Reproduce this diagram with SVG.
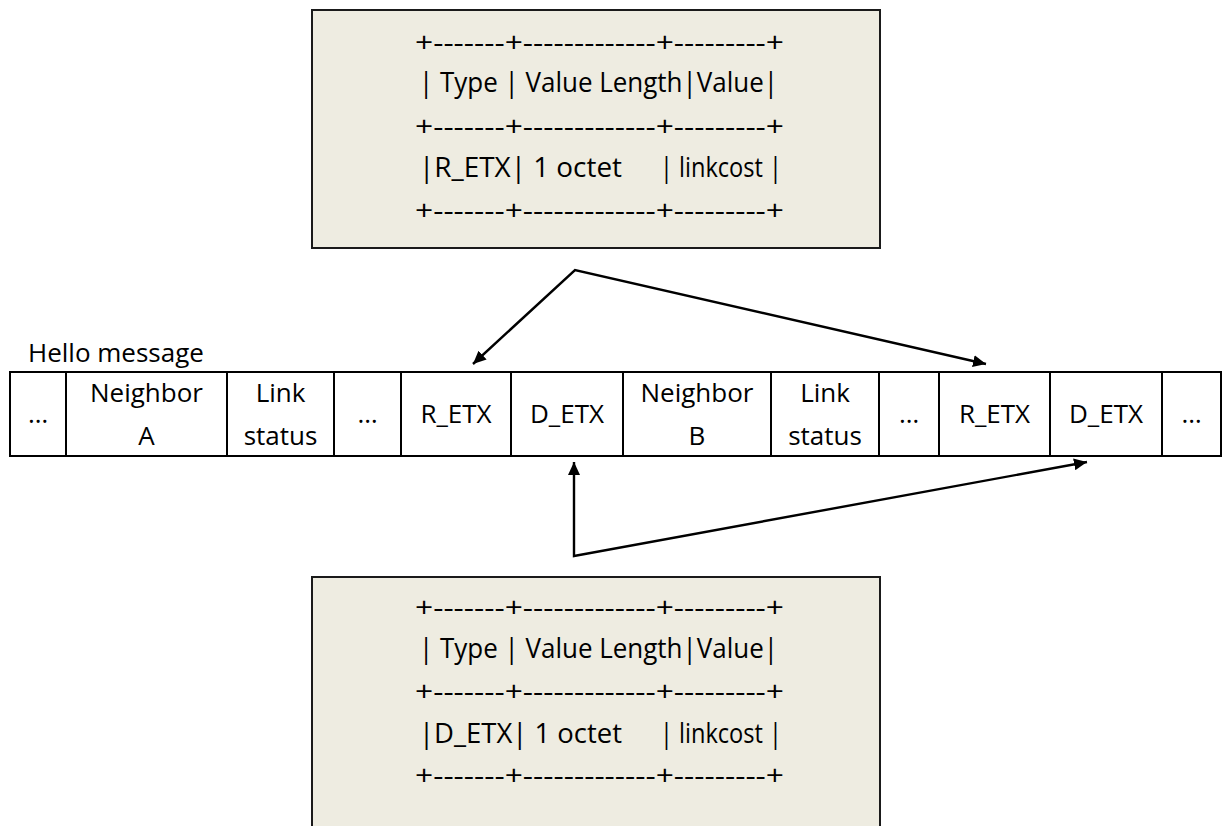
<svg xmlns="http://www.w3.org/2000/svg" width="1222" height="826" viewBox="0 0 1222 826">
<defs>
<style>
text{font-family:"Open Sans","Liberation Sans",sans-serif;font-size:26px;fill:#000;}
.c{text-anchor:middle;}
.t{font-size:27px;}
.box{fill:#EEECE1;stroke:#1a1a1a;stroke-width:2;}
.cell{fill:#fff;stroke:#000;stroke-width:2;}
.conn{fill:none;stroke:#000;stroke-width:2.4;stroke-linejoin:miter;}
</style>
<marker id="ah" viewBox="0 0 13 12" refX="13" refY="6" markerWidth="13" markerHeight="12" markerUnits="userSpaceOnUse" orient="auto-start-reverse">
<path d="M0,0 L13,6 L0,12 z" fill="#000"/>
</marker>
</defs>
<rect width="1222" height="826" fill="#fff"/>

<g id="tlv-r">
<rect class="box" x="312" y="10" width="568" height="238"/>
<text class="t" x="415" y="52" textLength="369" lengthAdjust="spacingAndGlyphs">+-------+-------------+---------+</text>
<text class="t" x="419" y="92" textLength="359" lengthAdjust="spacingAndGlyphs">| Type | Value Length|Value|</text>
<text class="t" x="415" y="136" textLength="369" lengthAdjust="spacingAndGlyphs">+-------+-------------+---------+</text>
<text class="t" y="177"><tspan x="419" textLength="203" lengthAdjust="spacingAndGlyphs">|R_ETX| 1 octet</tspan><tspan x="660" textLength="122" lengthAdjust="spacingAndGlyphs">| linkcost |</tspan></text>
<text class="t" x="415" y="220" textLength="369" lengthAdjust="spacingAndGlyphs">+-------+-------------+---------+</text>
</g>

<g id="tlv-d">
<rect class="box" x="312" y="577" width="568" height="260"/>
<text class="t" x="415" y="617" textLength="369" lengthAdjust="spacingAndGlyphs">+-------+-------------+---------+</text>
<text class="t" x="419" y="658" textLength="359" lengthAdjust="spacingAndGlyphs">| Type | Value Length|Value|</text>
<text class="t" x="415" y="701" textLength="369" lengthAdjust="spacingAndGlyphs">+-------+-------------+---------+</text>
<text class="t" y="743"><tspan x="419" textLength="203" lengthAdjust="spacingAndGlyphs">|D_ETX| 1 octet</tspan><tspan x="660" textLength="122" lengthAdjust="spacingAndGlyphs">| linkcost |</tspan></text>
<text class="t" x="415" y="785" textLength="369" lengthAdjust="spacingAndGlyphs">+-------+-------------+---------+</text>
</g>

<g id="hello-label">
<text x="28" y="362">Hello message</text>
</g>

<g id="hello-message">
<g id="cell-1"><rect class="cell" x="10" y="372" width="56" height="84"/><text class="c" x="38" y="423">…</text></g>
<g id="cell-neighbor-a"><rect class="cell" x="66" y="372" width="161" height="84"/><text class="c" x="146.5" y="402">Neighbor</text><text class="c" x="146.5" y="445">A</text></g>
<g id="cell-link-a"><rect class="cell" x="227" y="372" width="107" height="84"/><text class="c" x="280.5" y="402">Link</text><text class="c" x="280.5" y="445">status</text></g>
<g id="cell-2"><rect class="cell" x="334" y="372" width="67" height="84"/><text class="c" x="367.5" y="423">…</text></g>
<g id="cell-r-etx-a"><rect class="cell" x="401" y="372" width="110" height="84"/><text class="c" x="456" y="423">R_ETX</text></g>
<g id="cell-d-etx-a"><rect class="cell" x="511" y="372" width="112" height="84"/><text class="c" x="567" y="423">D_ETX</text></g>
<g id="cell-neighbor-b"><rect class="cell" x="623" y="372" width="148" height="84"/><text class="c" x="697" y="402">Neighbor</text><text class="c" x="697" y="445">B</text></g>
<g id="cell-link-b"><rect class="cell" x="771" y="372" width="108" height="84"/><text class="c" x="825" y="402">Link</text><text class="c" x="825" y="445">status</text></g>
<g id="cell-3"><rect class="cell" x="879" y="372" width="60" height="84"/><text class="c" x="909" y="423">…</text></g>
<g id="cell-r-etx-b"><rect class="cell" x="939" y="372" width="111" height="84"/><text class="c" x="994.5" y="423">R_ETX</text></g>
<g id="cell-d-etx-b"><rect class="cell" x="1050" y="372" width="112" height="84"/><text class="c" x="1106" y="423">D_ETX</text></g>
<g id="cell-4"><rect class="cell" x="1162" y="372" width="59" height="84"/><text class="c" x="1191.5" y="423">…</text></g>
</g>

<g id="connectors">
<path class="conn" d="M473,364 L575,270 L986,364" marker-start="url(#ah)" marker-end="url(#ah)"/>
<path class="conn" d="M574,462 L574,556 L1087,462" marker-start="url(#ah)" marker-end="url(#ah)"/>
</g>
</svg>
